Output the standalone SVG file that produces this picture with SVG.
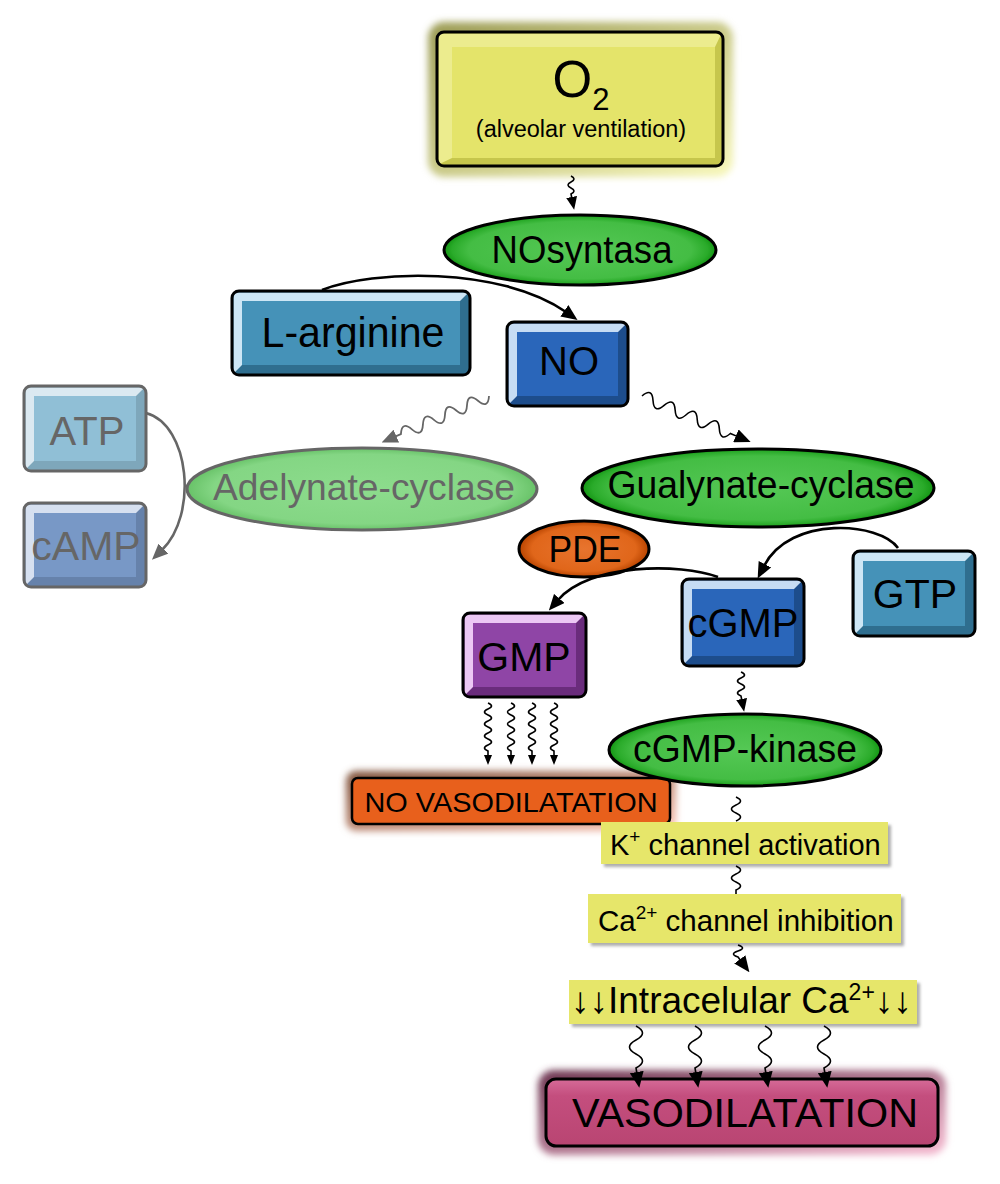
<svg xmlns="http://www.w3.org/2000/svg" width="1000" height="1184" viewBox="0 0 1000 1184">
<defs>
<style>
text{font-family:"Liberation Sans",Arial,sans-serif;}
.t{fill:#000;text-anchor:middle}
.g{fill:#666;text-anchor:middle}
.ol{fill:none;stroke:#000;stroke-width:3}
.olg{fill:none;stroke:#666;stroke-width:3}
.w{fill:none;stroke:#000;stroke-width:1.6}
.wg{fill:none;stroke:#666;stroke-width:1.8}
.c{fill:none;stroke:#000;stroke-width:2.6}
.cg{fill:none;stroke:#666;stroke-width:2.6}
.yl{fill:#e6e66a}
</style>
<marker id="ah" markerUnits="userSpaceOnUse" markerWidth="16" markerHeight="14" refX="2" refY="7" orient="auto"><path d="M0,0 L16,7 L0,14 Z" fill="#000"/></marker>
<marker id="ahg" markerUnits="userSpaceOnUse" markerWidth="16" markerHeight="14" refX="2" refY="7" orient="auto"><path d="M0,0 L16,7 L0,14 Z" fill="#666"/></marker>
<marker id="ahm" markerUnits="userSpaceOnUse" markerWidth="13" markerHeight="11" refX="2" refY="5.5" orient="auto"><path d="M0,0 L13,5.5 L0,11 Z" fill="#000"/></marker>
<marker id="ahs" markerUnits="userSpaceOnUse" markerWidth="10" markerHeight="8" refX="1" refY="4" orient="auto"><path d="M0,0 L10,4 L0,8 Z" fill="#000"/></marker>
<filter id="blur" x="-20%" y="-30%" width="140%" height="160%"><feGaussianBlur stdDeviation="3.5"/></filter>
<filter id="sh" x="-10%" y="-30%" width="125%" height="170%"><feDropShadow dx="3" dy="3" stdDeviation="1.8" flood-color="#777" flood-opacity="0.6"/></filter>
<linearGradient id="gO2" x1="0" y1="0" x2="1" y2="1"><stop offset="0" stop-color="#9c9c55"/><stop offset="1" stop-color="#f8f8bc"/></linearGradient>
<linearGradient id="gNV" x1="0" y1="0" x2="1" y2="1"><stop offset="0" stop-color="#7d5038"/><stop offset="1" stop-color="#ffc8b8"/></linearGradient>
<linearGradient id="gV" x1="0" y1="0" x2="1" y2="1"><stop offset="0" stop-color="#6c3550"/><stop offset="1" stop-color="#f7bcd2"/></linearGradient>
<linearGradient id="gVf" x1="0" y1="0" x2="0" y2="1"><stop offset="0" stop-color="#d66b98"/><stop offset="0.25" stop-color="#c44e7e"/><stop offset="1" stop-color="#b94572"/></linearGradient>
<radialGradient id="gG" cx="0.5" cy="0.5" r="0.5"><stop offset="0" stop-color="#55c855"/><stop offset="0.82" stop-color="#44bd44"/><stop offset="0.94" stop-color="#2aab2a"/><stop offset="1" stop-color="#139513"/></radialGradient>
<radialGradient id="gGl" cx="0.5" cy="0.5" r="0.5"><stop offset="0" stop-color="#8ddc8d"/><stop offset="0.85" stop-color="#84d684"/><stop offset="1" stop-color="#68c268"/></radialGradient>
<radialGradient id="gP" cx="0.5" cy="0.5" r="0.5"><stop offset="0" stop-color="#e8742e"/><stop offset="0.8" stop-color="#e0661a"/><stop offset="1" stop-color="#b84400"/></radialGradient>
</defs>
<rect width="1000" height="1184" fill="#fff"/>

<g id="n-o2">
<rect x="428" y="22" width="305" height="155" rx="16" fill="url(#gO2)" filter="url(#blur)"/>
<rect x="437" y="32" width="286" height="134" rx="7" fill="#c6c64c"/>
<path d="M438.5,33.5 H721.5 L715,47 H452 V158 L438.5,164.5 Z" fill="#ecec8e"/>
<rect x="452" y="47" width="263" height="111" fill="#e4e46a"/>
<rect x="437" y="32" width="286" height="134" rx="7" class="ol"/>
<text x="581" y="97" class="t" font-size="51">O<tspan font-size="31" dy="13">2</tspan></text>
<text x="581" y="137" class="t" font-size="23.5">(alveolar ventilation)</text>
</g>

<g id="n-nosyntasa">
<ellipse cx="580" cy="250" rx="136" ry="35" fill="url(#gG)" stroke="#000" stroke-width="3"/>
<text x="582" y="263" class="t" font-size="38" textLength="181" lengthAdjust="spacingAndGlyphs">NOsyntasa</text>
</g>

<g id="n-larginine">
<rect x="232" y="291" width="238" height="84" rx="7" fill="#2f6e8f"/>
<path d="M233.5,292.5 H468.5 L460,301 H242 V365 L233.5,373.5 Z" fill="#cde6f5"/>
<rect x="242" y="301" width="218" height="64" fill="#4592b8"/>
<rect x="232" y="291" width="238" height="84" rx="7" class="ol"/>
<text x="353" y="347" class="t" font-size="42" textLength="183" lengthAdjust="spacingAndGlyphs">L-arginine</text>
</g>

<g id="n-no">
<rect x="507" y="322" width="121" height="84" rx="7" fill="#1d4d8c"/>
<path d="M508.5,323.5 H626.5 L618,332 H517 V396 L508.5,404.5 Z" fill="#c6dcf4"/>
<rect x="517" y="332" width="101" height="64" fill="#2a66ba"/>
<rect x="507" y="322" width="121" height="84" rx="7" class="ol"/>
<text x="569" y="375" class="t" font-size="40">NO</text>
</g>

<g id="n-atp">
<rect x="24" y="386" width="122" height="85" rx="7" fill="#7ea7bb"/>
<path d="M25.5,387.5 H144.5 L136,396 H34 V461 L25.5,469.5 Z" fill="#dbe9f1"/>
<rect x="34" y="396" width="102" height="65" fill="#90bfd6"/>
<rect x="24" y="386" width="122" height="85" rx="7" class="olg"/>
<text x="87" y="445" class="g" font-size="40">ATP</text>
</g>

<g id="n-camp">
<rect x="24" y="503" width="122" height="84" rx="7" fill="#6682ab"/>
<path d="M25.5,504.5 H144.5 L136,513 H34 V577 L25.5,585.5 Z" fill="#d6e0f0"/>
<rect x="34" y="513" width="102" height="64" fill="#7898c6"/>
<rect x="24" y="503" width="122" height="84" rx="7" class="olg"/>
<text x="86" y="560" class="g" font-size="41">cAMP</text>
</g>

<g id="n-adelynate">
<ellipse cx="362" cy="489" rx="175" ry="41" fill="url(#gGl)" stroke="#666" stroke-width="3"/>
<text x="364" y="500" class="g" font-size="37" textLength="302" lengthAdjust="spacingAndGlyphs">Adelynate-cyclase</text>
</g>

<g id="n-gualynate">
<ellipse cx="758" cy="488" rx="176" ry="39" fill="url(#gG)" stroke="#000" stroke-width="3"/>
<text x="761" y="498" class="t" font-size="38" textLength="307" lengthAdjust="spacingAndGlyphs">Gualynate-cyclase</text>
</g>

<g id="n-pde">
<ellipse cx="584" cy="549" rx="65" ry="28" fill="url(#gP)" stroke="#000" stroke-width="3"/>
<text x="585" y="562" class="t" font-size="36" textLength="73" lengthAdjust="spacingAndGlyphs">PDE</text>
</g>

<g id="n-cgmp">
<rect x="682" y="579" width="122" height="87" rx="7" fill="#1d4d8c"/>
<path d="M683.5,580.5 H802.5 L794,589 H692 V656 L683.5,664.5 Z" fill="#c6dcf4"/>
<rect x="692" y="589" width="102" height="67" fill="#2a66ba"/>
<rect x="682" y="579" width="122" height="87" rx="7" class="ol"/>
<text x="743" y="637" class="t" font-size="41" textLength="111" lengthAdjust="spacingAndGlyphs">cGMP</text>
</g>

<g id="n-gtp">
<rect x="853" y="551" width="122" height="85" rx="7" fill="#2f6e8f"/>
<path d="M854.5,552.5 H973.5 L965,561 H863 V626 L854.5,634.5 Z" fill="#cde6f5"/>
<rect x="863" y="561" width="102" height="65" fill="#4592b8"/>
<rect x="853" y="551" width="122" height="85" rx="7" class="ol"/>
<text x="915" y="608" class="t" font-size="41">GTP</text>
</g>

<g id="n-gmp">
<rect x="463" y="613" width="123" height="84" rx="7" fill="#6a2c7c"/>
<path d="M464.5,614.5 H584.5 L576,623 H473 V687 L464.5,695.5 Z" fill="#ecc8f4"/>
<rect x="473" y="623" width="103" height="64" fill="#8f45a6"/>
<rect x="463" y="613" width="123" height="84" rx="7" class="ol"/>
<text x="524" y="671" class="t" font-size="41">GMP</text>
</g>

<g id="n-novaso">
<rect x="346" y="771" width="330" height="60" rx="10" fill="url(#gNV)" filter="url(#blur)"/>
<rect x="352" y="778" width="318" height="46" rx="6" fill="#e8601c" stroke="#000" stroke-width="2.5"/>
<text x="511" y="812" class="t" font-size="28" textLength="293" lengthAdjust="spacingAndGlyphs">NO VASODILATATION</text>
</g>

<g id="n-kinase">
<ellipse cx="745" cy="750" rx="136" ry="36" fill="url(#gG)" stroke="#000" stroke-width="3"/>
<text x="745" y="762" class="t" font-size="38" textLength="224" lengthAdjust="spacingAndGlyphs">cGMP-kinase</text>
</g>

<g id="n-kchannel">
<rect x="601" y="822" width="287" height="42" class="yl" filter="url(#sh)"/>
<text x="610" y="855" font-size="29" fill="#000">K<tspan font-size="19" dy="-12">+</tspan><tspan dy="12"> channel activation</tspan></text>
</g>

<g id="n-cachannel">
<rect x="588" y="894" width="313" height="49" class="yl" filter="url(#sh)"/>
<text x="598" y="931" font-size="29.5" fill="#000">Ca<tspan font-size="19" dy="-12">2+</tspan><tspan dy="12"> channel inhibition</tspan></text>
</g>

<g id="n-intracelular">
<rect x="569" y="980" width="348" height="44" class="yl" filter="url(#sh)"/>
<text x="571" y="1013" font-size="37" fill="#000"><tspan font-weight="bold">↓↓</tspan>Intracelular Ca<tspan font-size="23" dy="-13">2+</tspan><tspan dy="13" font-weight="bold">↓↓</tspan></text>
</g>

<g id="n-vaso">
<rect x="538" y="1070" width="408" height="85" rx="16" fill="url(#gV)" filter="url(#blur)"/>
<rect x="546" y="1079" width="392" height="67" rx="10" fill="url(#gVf)" stroke="#000" stroke-width="3"/>
<text x="745" y="1127" class="t" font-size="40" textLength="346" lengthAdjust="spacingAndGlyphs">VASODILATATION</text>
</g>

<g id="connectors">
<path class="w" d="M571,176 q6,3 0,6 t0,6 t0,6 l1,5" marker-end="url(#ahm)"/>
<path class="c" d="M322,290 C372,270 500,266 566,312" marker-end="url(#ah)"/>
<path class="w" transform="translate(642,396) rotate(23)" d="M0,0 q6,-12 12,0 t12,0 t12,0 t12,0 t12,0 t12,0 t12,0 t12,0 l8,0" marker-end="url(#ah)"/>
<path class="wg" transform="translate(489,396) rotate(156.6)" d="M0,0 q6,-12 12,0 t12,0 t12,0 t12,0 t12,0 t12,0 t12,0 t12,0 l7,0" marker-end="url(#ahg)"/>
<path class="cg" d="M146,413 C190,425 198,515 162,550" marker-end="url(#ahg)"/>
<path class="c" d="M898,548 C880,522 790,515 764,566" marker-end="url(#ah)"/>
<path class="c" d="M718,577 C680,563 590,563 558,600" marker-end="url(#ah)"/>
<path class="w" d="M488,703 q7,3 0,6 t0,6 t0,6 t0,6 t0,6 t0,6 t0,6 t0,6 l0,5" marker-end="url(#ahs)"/>
<path class="w" d="M511,703 q7,3 0,6 t0,6 t0,6 t0,6 t0,6 t0,6 t0,6 t0,6 l0,5" marker-end="url(#ahs)"/>
<path class="w" d="M532,703 q7,3 0,6 t0,6 t0,6 t0,6 t0,6 t0,6 t0,6 t0,6 l0,5" marker-end="url(#ahs)"/>
<path class="w" d="M554,703 q7,3 0,6 t0,6 t0,6 t0,6 t0,6 t0,6 t0,6 t0,6 l0,5" marker-end="url(#ahs)"/>
<path class="w" d="M741,672 q7,3 0,6 t0,6 t0,6 t0,6 l1,5" marker-end="url(#ahm)"/>
<path class="w" d="M736,797 q9,4 0,8 t0,8 t0,8"/>
<path class="w" d="M736,866 q9,4 0,8 t0,8 t0,8 l0,4"/>
<path class="w" d="M738,945 q9,3 0,6 t0,6 l3,4" marker-end="url(#ah)"/>
<path class="w" d="M636,1026 q13,7 0,14 t0,14 t0,14 l1,6" marker-end="url(#ah)"/>
<path class="w" d="M695,1026 q13,7 0,14 t0,14 t0,14 l1,6" marker-end="url(#ah)"/>
<path class="w" d="M765,1026 q13,7 0,14 t0,14 t0,14 l1,6" marker-end="url(#ah)"/>
<path class="w" d="M824,1026 q13,7 0,14 t0,14 t0,14 l1,6" marker-end="url(#ah)"/>
</g>
</svg>
